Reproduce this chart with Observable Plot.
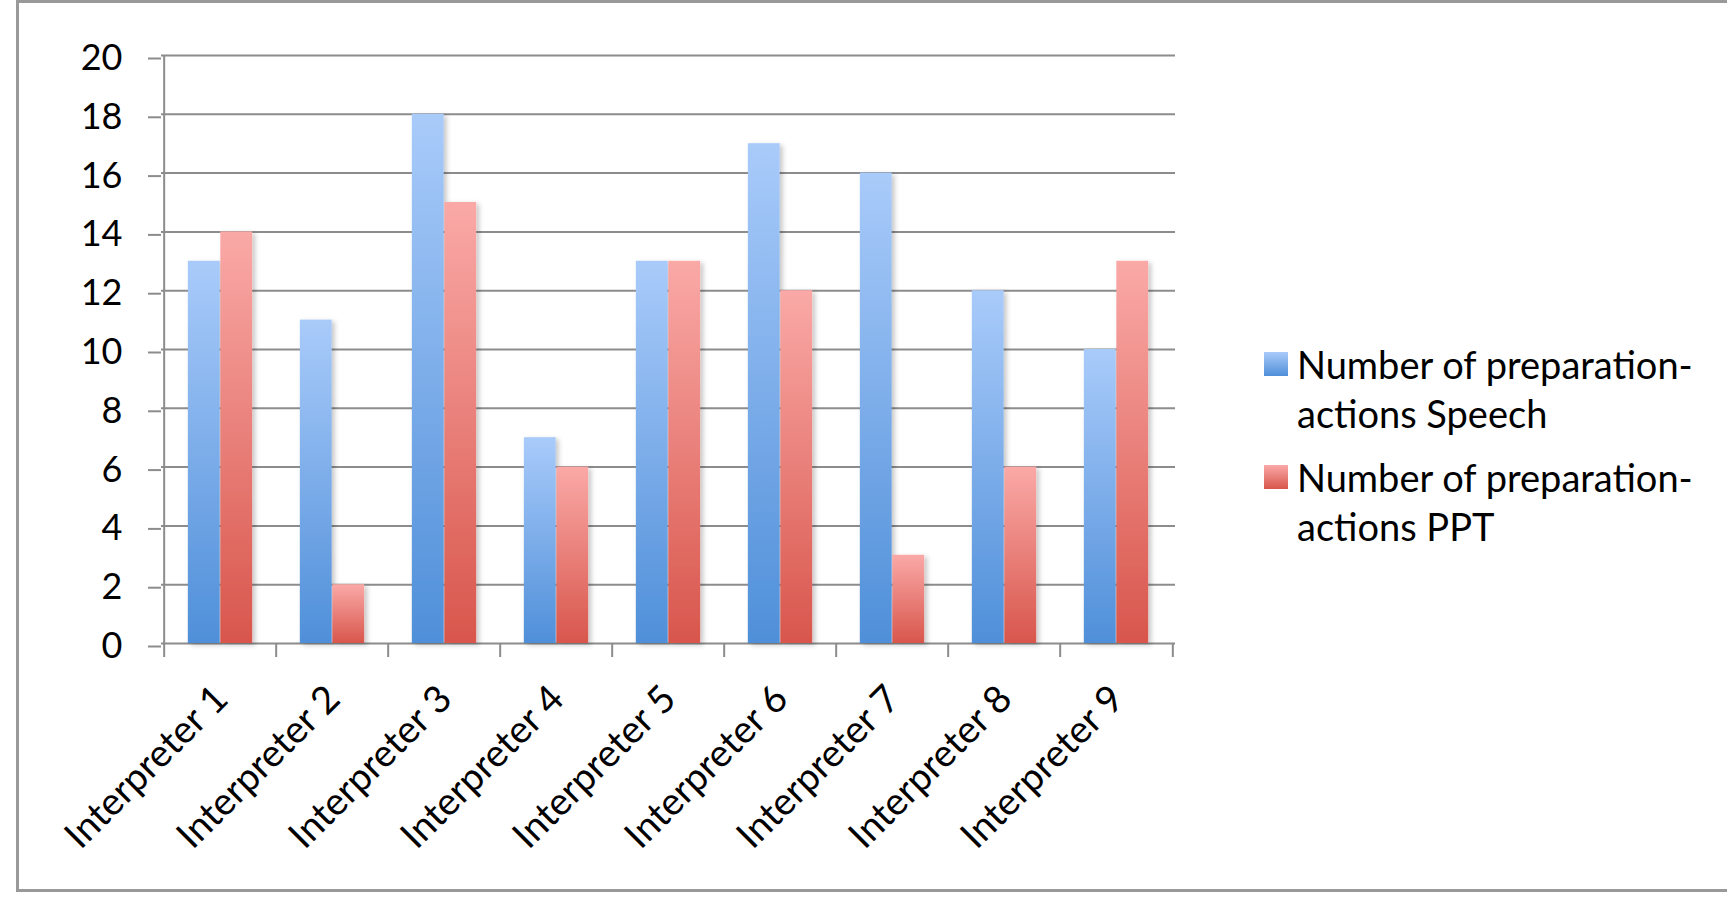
<!DOCTYPE html>
<html>
<head>
<meta charset="utf-8">
<script src="https://cdn.jsdelivr.net/npm/d3@7"></script>
<script src="https://cdn.jsdelivr.net/npm/@observablehq/plot@0.6"></script>
<style>
  html, body { margin: 0; padding: 0; background: #fff; overflow: hidden; }
  #wrap { position: relative; width: 1727px; height: 903px; font-family: Lato, "Open Sans", sans-serif; }
  #border { position: absolute; left: 16px; top: 0px; width: 1740px; height: 886px; border: 3px solid #999; box-sizing: content-box; }
  #chart { position: absolute; left: 0; top: 0; }
  #legend { position: absolute; left: 1264px; top: 352px; color: #000; }
  .item { position: relative; height: 113px; }
  .txt { position: absolute; left: 33px; top: -12px; font-size: 38px; line-height: 49px; white-space: nowrap; }
  .sw { position: absolute; left: 0; top: 0; width: 24px; height: 24px; }
</style>
</head>
<body>
<div id="wrap">
  <div id="border"></div>
  <div id="chart"></div>
  <div id="legend"></div>
</div>
<script>
const categories = ["Interpreter 1","Interpreter 2","Interpreter 3","Interpreter 4","Interpreter 5","Interpreter 6","Interpreter 7","Interpreter 8","Interpreter 9"];
const speech = [13, 11, 18, 7, 13, 17, 16, 12, 10];
const ppt = [14, 2, 15, 6, 13, 12, 3, 6, 13];
const seriesNames = ["Number of preparation-actions Speech", "Number of preparation-actions PPT"];
const seriesLines = [["Number of preparation-", "actions Speech"], ["Number of preparation-", "actions PPT"]];
const yTicks = [0, 2, 4, 6, 8, 10, 12, 14, 16, 18, 20];

const W = 1727, H = 903;
const mL = 161, mR = 552, mT = 55, mB = 260;
const bw = (W - mL - mR) / categories.length;
const barW = bw * 0.2885;
const gap = (bw - 2 * barW) / 2;
const frameH = H - mT - mB;
const grey = "#8c8c8c";

const speechData = categories.map((c, i) => ({cat: c, v: speech[i]}));
const pptData = categories.map((c, i) => ({cat: c, v: ppt[i]}));

const plot = Plot.plot({
  width: W, height: H,
  marginLeft: mL, marginRight: mR, marginTop: mT, marginBottom: mB,
  style: {fontFamily: "Lato, 'Open Sans', sans-serif", background: "transparent", color: "#000", overflow: "visible"},
  x: {domain: categories, padding: 0, label: null},
  y: {domain: [0, 20], label: null},
  marks: [
    Plot.gridY(yTicks, {stroke: grey, strokeOpacity: 1, strokeWidth: 2}),
    Plot.ruleX(categories.slice(0, 1), {x: d => d, dx: -bw / 2, stroke: grey, strokeWidth: 2}),
    Plot.ruleX(categories, {x: d => d, dx: -bw / 2, stroke: grey, strokeWidth: 2, insetTop: frameH, insetBottom: -14}),
    Plot.ruleX(categories.slice(-1), {x: d => d, dx: bw / 2, stroke: grey, strokeWidth: 2, insetTop: frameH, insetBottom: -14}),
    Plot.barY(speechData, {x: "cat", y: "v", fill: "url(#gradBlue)", insetLeft: gap, insetRight: gap + barW}),
    Plot.barY(pptData, {x: "cat", y: "v", fill: "url(#gradRed)", insetLeft: gap + barW, insetRight: gap}),
    Plot.axisY(yTicks, {tickSize: 13, tickPadding: 26, stroke: grey, strokeWidth: 2, fontSize: 36, dy: 3, label: null}),
    Plot.axisX({tickSize: 0, tickRotate: -45, tickPadding: 49, dx: 1, fontSize: 38, label: null})
  ]
});

const svg = d3.select(plot);
const defs = svg.insert("defs", ":first-child");
function grad(id, c0, c1) {
  const g = defs.append("linearGradient").attr("id", id).attr("x1", 0).attr("y1", 0).attr("x2", 0).attr("y2", 1);
  g.append("stop").attr("offset", "0%").attr("stop-color", c0);
  g.append("stop").attr("offset", "100%").attr("stop-color", c1);
}
grad("gradBlue", "#a9cbfa", "#4f8fd9");
grad("gradRed", "#faa9a7", "#d8564c");
const f = defs.append("filter").attr("id", "shadow").attr("x", "-20%").attr("y", "-10%").attr("width", "150%").attr("height", "130%");
f.append("feDropShadow").attr("dx", 3).attr("dy", 2).attr("stdDeviation", 2.5).attr("flood-color", "#000").attr("flood-opacity", 0.22);
svg.selectAll("g[aria-label='bar']").attr("filter", "url(#shadow)");

document.getElementById("chart").appendChild(plot);

const legend = document.getElementById("legend");
const swatchBg = ["linear-gradient(#a9cbfa, #4f8fd9)", "linear-gradient(#faa9a7, #d8564c)"];
seriesLines.forEach((lines, i) => {
  const it = document.createElement("div");
  it.className = "item";
  it.title = seriesNames[i];
  const sw = document.createElement("div");
  sw.className = "sw";
  sw.style.background = swatchBg[i];
  it.appendChild(sw);
  const t = document.createElement("div");
  t.className = "txt";
  lines.forEach(l => { const d = document.createElement("div"); d.textContent = l; t.appendChild(d); });
  it.appendChild(t);
  legend.appendChild(it);
});
</script>
</body>
</html>
